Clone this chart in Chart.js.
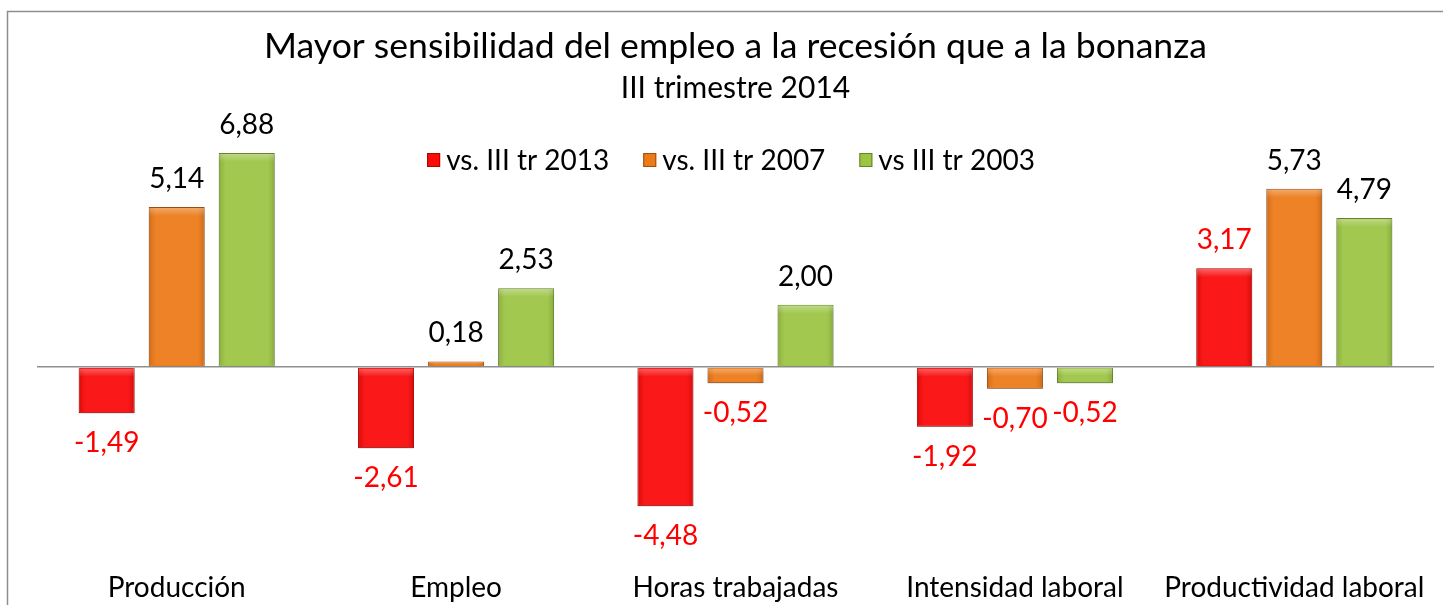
<!DOCTYPE html>
<html>
<head>
<meta charset="utf-8">
<script src="https://cdn.jsdelivr.net/npm/chart.js@4"></script>
<style>
  html, body { margin: 0; padding: 0; background: #fff; }
  #wrap { width: 1443px; height: 605px; }
</style>
</head>
<body>
<div id="wrap"><canvas id="myChart"></canvas></div>
<script>
const categories = ["Producción", "Empleo", "Horas trabajadas", "Intensidad laboral", "Productividad laboral"]
const seriesNames = ["vs. III tr 2013", "vs. III tr 2007", "vs III tr 2003"]
const vs2013 = [-1.49, -2.61, -4.48, -1.92, 3.17]
const vs2007 = [5.14, 0.18, -0.52, -0.70, 5.73]
const vs2003 = [6.88, 2.53, 2.00, -0.52, 4.79]

const FONT = "Lato, 'Noto Sans', sans-serif"
const fills = ["#fa0a0a", "#ec7a18", "#9cc544"]
const edges = ["#b30000", "#9c4f0c", "#66832a"]

const fmt = v => v.toFixed(2).replace(".", ",")

// frame around the chart, cut by the window on the right and bottom
const framePlugin = {
  id: "frame",
  beforeDraw(chart) {
    const ctx = chart.ctx
    ctx.save()
    ctx.strokeStyle = "#8e8e8e"
    ctx.lineWidth = 1.5
    ctx.beginPath()
    ctx.moveTo(7.5, chart.height + 5)
    ctx.lineTo(7.5, 11.5)
    ctx.lineTo(chart.width + 5, 11.5)
    ctx.stroke()
    ctx.restore()
  },
  beforeDatasetsDraw(chart) {
    const ctx = chart.ctx
    ctx.save()
    ctx.shadowColor = "rgba(0,0,0,0.28)"
    ctx.shadowBlur = 5
    ctx.shadowOffsetY = 3
  },
  afterDatasetsDraw(chart) {
    chart.ctx.restore()
  }
}

// soft bevel on top of each bar, like the office style
const bevel = {
  id: "bevel",
  afterDatasetsDraw(chart) {
    const ctx = chart.ctx
    ctx.save()
    chart.data.datasets.forEach((ds, di) => {
      chart.getDatasetMeta(di).data.forEach(bar => {
        const left = bar.x - bar.width / 2 + 1
        const w = bar.width - 2
        const top = Math.min(bar.y, bar.base) + 1
        const h = Math.abs(bar.base - bar.y) - 2
        if (h <= 0) return
        const g = ctx.createLinearGradient(left, 0, left + w, 0)
        g.addColorStop(0, "rgba(0,0,0,0.10)")
        g.addColorStop(0.12, "rgba(255,255,255,0.06)")
        g.addColorStop(0.88, "rgba(255,255,255,0.06)")
        g.addColorStop(1, "rgba(0,0,0,0.12)")
        ctx.fillStyle = g
        ctx.fillRect(left, top, w, h)
        const band = Math.min(8, h / 2)
        const g2 = ctx.createLinearGradient(0, top, 0, top + band)
        g2.addColorStop(0, "rgba(255,255,255,0.30)")
        g2.addColorStop(1, "rgba(255,255,255,0)")
        ctx.fillStyle = g2
        ctx.fillRect(left, top, w, band)
      })
    })
    ctx.restore()
  }
}

// legend sits inside the plot, one row, centred
const rowLegend = {
  id: "rowLegend",
  afterDraw(chart) {
    const ctx = chart.ctx
    ctx.save()
    ctx.font = "28px " + FONT
    ctx.textBaseline = "middle"
    const box = 13, gap = 6, space = 34, y = 160
    const widths = chart.data.datasets.map(ds => box + gap + ctx.measureText(ds.label).width)
    const total = widths.reduce((a, b) => a + b, 0) + space * (widths.length - 1)
    let x = 731 - total / 2
    chart.data.datasets.forEach((ds, i) => {
      ctx.fillStyle = ds.backgroundColor
      ctx.fillRect(x, y - 7, box, 14)
      ctx.strokeStyle = ds.borderColor
      ctx.lineWidth = 1
      ctx.strokeRect(x + 0.5, y - 6.5, box - 1, 13)
      ctx.fillStyle = "#000"
      ctx.fillText(ds.label, x + box + gap, y + 1)
      x += widths[i] + space
    })
    ctx.restore()
  }
}

// value labels above / below each bar
const valueLabels = {
  id: "valueLabels",
  afterDatasetsDraw(chart) {
    const ctx = chart.ctx
    ctx.save()
    ctx.font = "28px " + FONT
    ctx.textAlign = "center"
    ctx.textBaseline = "middle"
    chart.data.datasets.forEach((ds, di) => {
      chart.getDatasetMeta(di).data.forEach((bar, i) => {
        const v = ds.data[i]
        ctx.fillStyle = (di === 0 || v < 0) ? "#ff0000" : "#000000"
        const y = v >= 0 ? bar.y - 28 : bar.y + 30
        ctx.fillText(fmt(v), bar.x, y)
      })
    })
    ctx.restore()
  }
}

const datasets = [vs2013, vs2007, vs2003].map((data, i) => ({
  label: seriesNames[i],
  data,
  backgroundColor: fills[i],
  borderColor: edges[i],
  borderWidth: 1,
  categoryPercentage: 0.752,
  barPercentage: 0.8
}))

new Chart(document.getElementById("myChart").getContext("2d"), {
  type: "bar",
  data: { labels: categories, datasets },
  options: {
    responsive: true,
    maintainAspectRatio: false,
    animation: false,
    layout: { padding: { left: 37, right: 9, top: 0, bottom: 0 } },
    plugins: {
      title: {
        display: true,
        text: "Mayor sensibilidad del empleo a la recesión que a la bonanza",
        color: "#000",
        font: { family: FONT, size: 35.6, weight: "normal", lineHeight: 1.2 },
        padding: { top: 25.4, bottom: 2 }
      },
      subtitle: {
        display: true,
        text: "III trimestre 2014",
        color: "#000",
        font: { family: FONT, size: 30, weight: "normal", lineHeight: 1.2 },
        padding: { top: 0, bottom: 30 }
      },
      legend: { display: false },
      tooltip: { enabled: false }
    },
    scales: {
      x: {
        grid: { display: false, drawTicks: false },
        border: { display: false },
        ticks: { color: "#000", font: { family: FONT, size: 28 }, padding: 0, maxRotation: 0 }
      },
      y: {
        min: -6.57,
        max: 7.42,
        grid: {
          drawTicks: false,
          lineWidth: 1.5,
          color: c => c.tick && c.tick.value === 0 ? "#8f8f8f" : "rgba(0,0,0,0)"
        },
        border: { display: false },
        ticks: { display: false, stepSize: 1 }
      }
    }
  },
  plugins: [framePlugin, bevel, valueLabels, rowLegend]
})
</script>
</body>
</html>
